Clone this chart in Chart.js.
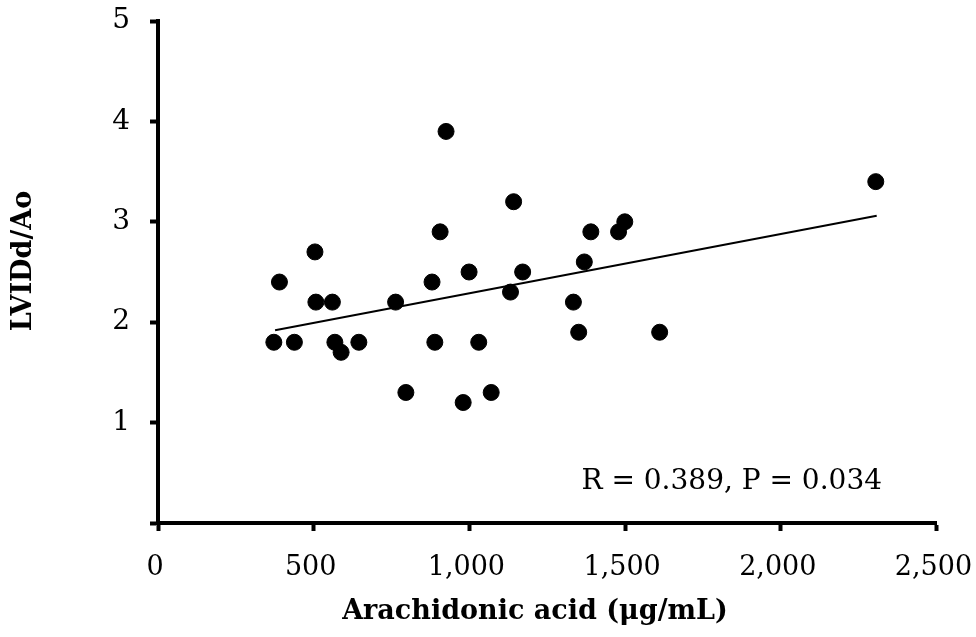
<!DOCTYPE html>
<html>
<head>
<meta charset="utf-8">
<script src="https://cdn.jsdelivr.net/npm/chart.js@4.4.1/dist/chart.umd.min.js"></script>
<style>
    html, body { margin: 0; padding: 0; background: #fff; }
    #wrap { width: 976px; height: 637px; position: relative; }
</style>
</head>
<body>
<div id="wrap"><canvas id="scatterChart"></canvas></div>
<script>
// Data titik
const acidValues = [372, 390, 438, 504, 507, 560, 568, 588, 645, 763, 796, 880, 889, 906, 925,
    980, 999, 1030, 1070, 1132, 1142, 1171, 1334, 1351, 1369, 1390, 1479, 1499, 1611, 2305];
const ratioValues = [1.8, 2.4, 1.8, 2.7, 2.2, 2.2, 1.8, 1.7, 1.8, 2.2, 1.3, 2.4, 1.8, 2.9, 3.9,
    1.2, 2.5, 1.8, 1.3, 2.3, 3.2, 2.5, 2.2, 1.9, 2.6, 2.9, 2.9, 3.0, 1.9, 3.4];

// Garis regresi: ujung kiri dan kanan
const trendX = [376, 2308];
const trendY = [1.92, 3.06];

// Label sumbu
const xTicks = [0, 500, 1000, 1500, 2000, 2500];
const yTicks = [0, 1, 2, 3, 4, 5];
const xTitle = 'Arachidonic acid (μg/mL)';
const yTitle = 'LVIDd/Ao';
const statText = 'R = 0.389, P = 0.034';

const serif = '"DejaVu Serif", serif';

const points = acidValues.map((x, i) => ({ x: x, y: ratioValues[i] }));
const trend = trendX.map((x, i) => ({ x: x, y: trendY[i] }));

// Plugin untuk judul sumbu dan teks statistik
const textLayer = {
    id: 'textLayer',
    afterDatasetsDraw(chart) {
        const { ctx, scales } = chart;
        ctx.save();
        ctx.fillStyle = '#000';
        ctx.textBaseline = 'middle';

        ctx.font = '28px ' + serif;
        ctx.textAlign = 'right';
        ctx.fillText(statText, scales.x.getPixelForValue(2325), scales.y.getPixelForValue(0.41));

        ctx.font = 'bold 27px ' + serif;
        ctx.textAlign = 'center';
        ctx.fillText(xTitle, 535, 612);

        ctx.translate(24, 261);
        ctx.rotate(-Math.PI / 2);
        ctx.fillText(yTitle, 0, 0);
        ctx.restore();
    }
};

const axisGrid = {
    drawOnChartArea: false,
    drawTicks: true,
    tickLength: 8,
    tickWidth: 4,
    tickColor: '#000'
};

new Chart(document.getElementById('scatterChart'), {
    type: 'scatter',
    data: {
        datasets: [
            {
                label: 'data',
                data: points,
                backgroundColor: '#000',
                borderColor: '#000',
                pointRadius: 8,
                pointHoverRadius: 8,
                order: 0
            },
            {
                type: 'line',
                label: 'trend',
                data: trend,
                borderColor: '#000',
                borderWidth: 2,
                pointRadius: 0,
                fill: false,
                order: 1
            }
        ]
    },
    options: {
        responsive: true,
        maintainAspectRatio: false,
        animation: false,
        layout: { padding: { top: 21, right: 39.5, bottom: 0, left: 0 } },
        plugins: {
            legend: { display: false },
            tooltip: { enabled: false }
        },
        scales: {
            x: {
                type: 'linear',
                min: 0,
                max: 2500,
                afterBuildTicks: axis => { axis.ticks = xTicks.map(v => ({ value: v })); },
                afterFit: axis => {
                    axis.height = 114;
                    axis.paddingLeft = 0;
                    axis.paddingRight = 0;
                },
                grid: axisGrid,
                border: { display: true, color: '#000', width: 4 },
                ticks: {
                    color: '#000',
                    padding: 21,
                    maxRotation: 0,
                    labelOffset: -3,
                    font: { family: serif, size: 27 },
                    callback: value => value.toLocaleString('en-US')
                }
            },
            y: {
                type: 'linear',
                min: 0,
                max: 5,
                afterBuildTicks: axis => { axis.ticks = yTicks.map(v => ({ value: v })); },
                afterFit: axis => {
                    axis.width = 158;
                    axis.paddingTop = 0;
                    axis.paddingBottom = 0;
                },
                grid: axisGrid,
                border: { display: true, color: '#000', width: 4 },
                ticks: {
                    color: '#000',
                    padding: 20,
                    font: { family: serif, size: 28 },
                    callback: value => value === 0 ? '' : value
                }
            }
        }
    },
    plugins: [textLayer]
});
</script>
</body>
</html>
